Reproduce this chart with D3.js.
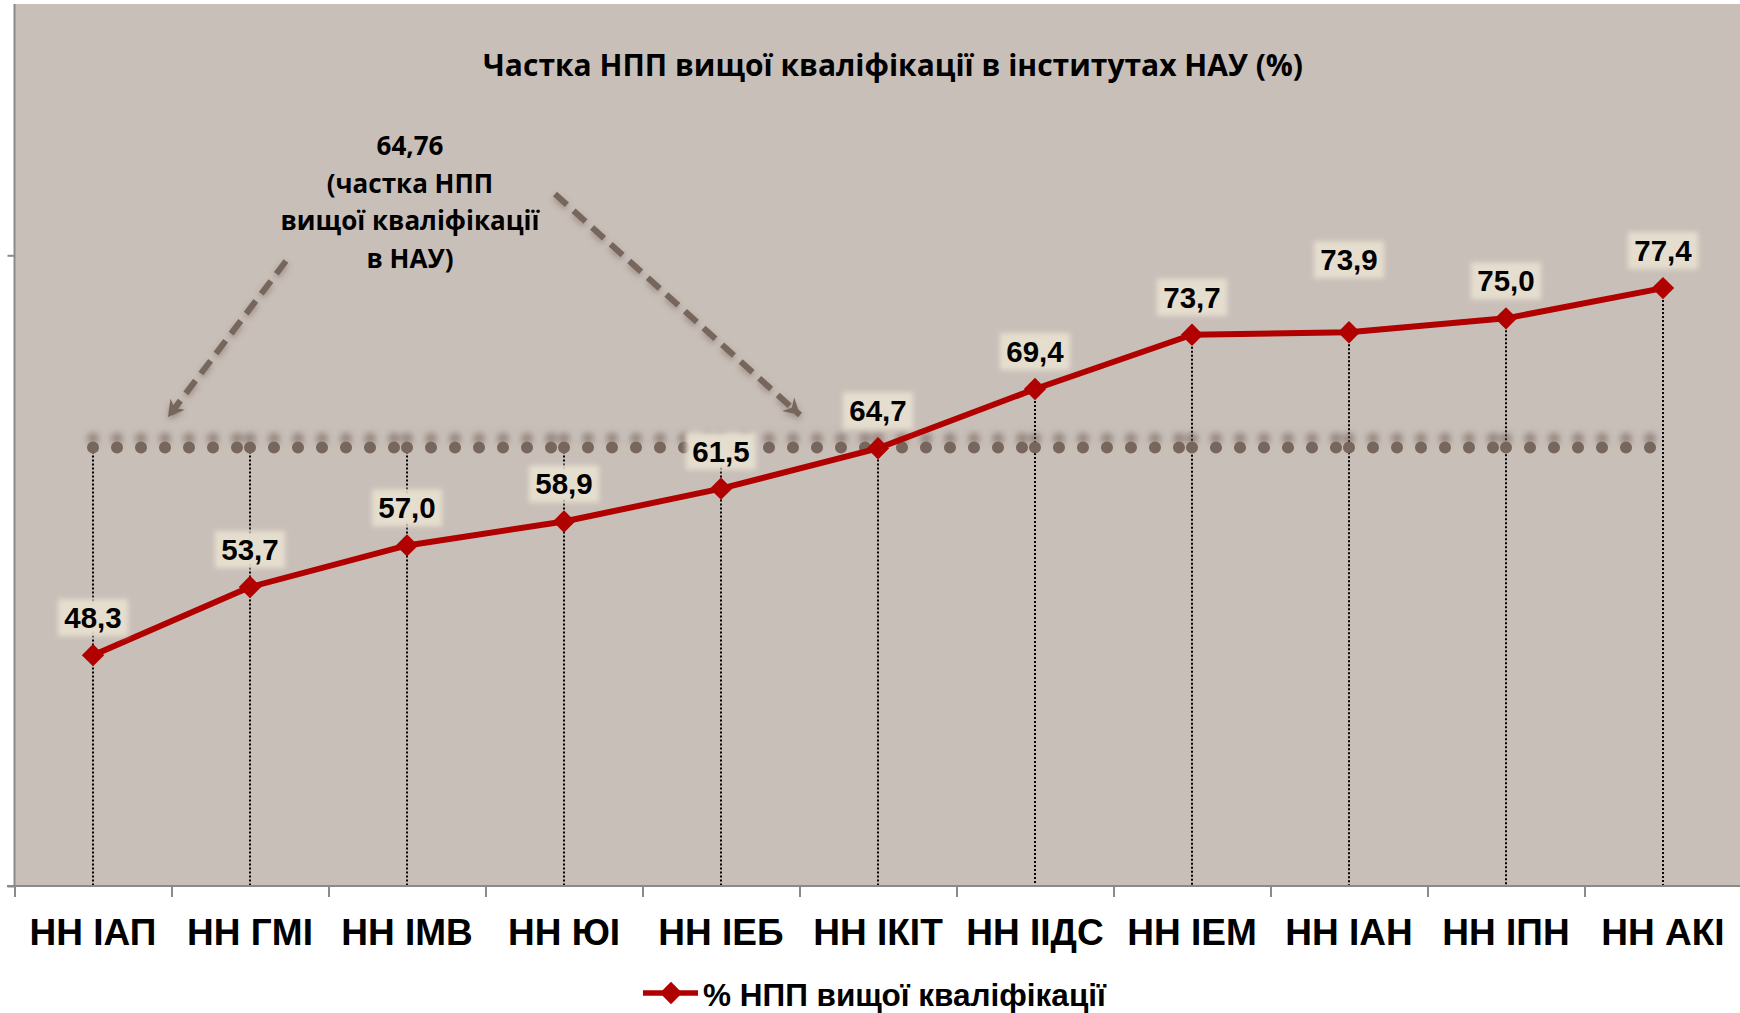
<!DOCTYPE html>
<html>
<head>
<meta charset="utf-8">
<script src="https://cdn.jsdelivr.net/npm/d3@7"></script>
<style>
  body { margin: 0; background: #fff; }
  svg { display: block; }
</style>
</head>
<body>
<svg id="canvas" width="1740" height="1013"></svg>
<script>
const categories = ["НН ІАП", "НН ГМІ", "НН ІМВ", "НН ЮІ", "НН ІЕБ", "НН ІКІТ", "НН ІІДС", "НН ІЕМ", "НН ІАН", "НН ІПН", "НН АКІ"];
const shares = [48.3, 53.7, 57.0, 58.9, 61.5, 64.7, 69.4, 73.7, 73.9, 75.0, 77.4];
const nauAverage = 64.76;
const yTicks = [30, 80];
const titleText = "Частка НПП вищої кваліфікації в інститутах НАУ (%)";
const noteLines = ["64,76", "(частка НПП", "вищої кваліфікації", "в НАУ)"];
const legendLabel = "% НПП вищої кваліфікації";

const red = "#b00000";
const brown = "#76665c";

const canvas = d3.select("#canvas");

const x = d3.scaleBand().domain(categories).range([14.5, 1741.5]).padding(0);
const xEdge = d3.scaleLinear().domain([0, categories.length]).range([14.5, 1741.5]);
const y = d3.scaleLinear().domain([30, 100]).range([886, 3]);
const cx = (c) => x(c) + x.bandwidth() / 2;
const fmt = (v) => d3.format(".1f")(v).replace(".", ",");

const defs = canvas.append("defs");
const wholeArea = (f) => f.attr("filterUnits", "userSpaceOnUse")
  .attr("x", 0).attr("y", 0).attr("width", 1740).attr("height", 1013);
const dotShadow = wholeArea(defs.append("filter").attr("id", "dotShadow"));
dotShadow.append("feDropShadow").attr("dx", 0).attr("dy", -9).attr("stdDeviation", 3)
  .attr("flood-color", "#5e4f46").attr("flood-opacity", 0.5);
const arrowShadow = wholeArea(defs.append("filter").attr("id", "arrowShadow"));
arrowShadow.append("feDropShadow").attr("dx", 0).attr("dy", 3).attr("stdDeviation", 3)
  .attr("flood-color", "#5e4f46").attr("flood-opacity", 0.45);
const glow = defs.append("filter").attr("id", "glow")
  .attr("x", "-30%").attr("y", "-50%").attr("width", "160%").attr("height", "200%");
glow.append("feGaussianBlur").attr("stdDeviation", 2.5);
defs.append("marker").attr("id", "head")
  .attr("markerUnits", "userSpaceOnUse")
  .attr("viewBox", "0 -10 20 20")
  .attr("refX", 16).attr("refY", 0)
  .attr("markerWidth", 20).attr("markerHeight", 20)
  .attr("orient", "auto")
  .append("path").attr("d", "M0,-9L16,0L0,9L5,0Z").attr("fill", brown);

// plot area
canvas.append("rect")
  .attr("x", 14.5).attr("y", 4)
  .attr("width", 1740 - 14.5).attr("height", y(30) - 4)
  .attr("fill", "#c9bfb9");

// title
canvas.append("text")
  .attr("x", 893).attr("y", 76)
  .attr("text-anchor", "middle")
  .attr("textLength", 820).attr("lengthAdjust", "spacingAndGlyphs")
  .style("font-family", "'Open Sans', sans-serif")
  .style("font-weight", "bold").style("font-size", "31px")
  .text(titleText);

// note about the average
canvas.append("g").selectAll("text")
  .data(noteLines)
  .enter()
  .append("text")
  .attr("x", 410)
  .attr("y", (d, i) => 155 + i * 37.6)
  .attr("text-anchor", "middle")
  .style("font-family", "'Open Sans', sans-serif")
  .style("font-weight", "bold").style("font-size", "26px")
  .text((d) => d);

// arrows pointing at the average line
const arrows = [[[286, 261], [168, 417]], [[555, 194], [800, 415]]];
canvas.append("g").attr("filter", "url(#arrowShadow)")
  .selectAll("line")
  .data(arrows)
  .enter()
  .append("line")
  .attr("x1", (d) => d[0][0]).attr("y1", (d) => d[0][1])
  .attr("x2", (d) => d[1][0]).attr("y2", (d) => d[1][1])
  .attr("stroke", brown).attr("stroke-width", 6)
  .attr("stroke-dasharray", "16 9")
  .attr("marker-end", "url(#head)");

// drop lines
canvas.append("g").selectAll("line")
  .data(categories)
  .enter()
  .append("line")
  .attr("x1", cx).attr("x2", cx)
  .attr("y1", (d, i) => y(Math.max(shares[i], nauAverage)))
  .attr("y2", y(30))
  .attr("stroke", "#000").attr("stroke-width", 2)
  .attr("stroke-dasharray", "2 2");

// average line made of round dots
const pairs = d3.pairs(categories);
canvas.append("g").attr("filter", "url(#dotShadow)")
  .selectAll("line")
  .data(pairs)
  .enter()
  .append("line")
  .attr("x1", (d) => cx(d[0])).attr("x2", (d) => cx(d[1]))
  .attr("y1", y(nauAverage)).attr("y2", y(nauAverage))
  .attr("stroke", brown).attr("stroke-width", 12)
  .attr("stroke-linecap", "round")
  .attr("stroke-dasharray", "0 24");

// axes
const yAxis = canvas.append("g")
  .attr("transform", "translate(14.5,0)")
  .call(d3.axisLeft(y).tickValues(yTicks).tickSize(7).tickFormat(""));
yAxis.select(".domain").attr("d", `M0,${y(100) + 1}V${y(30)}`);

const xTicks = canvas.append("g")
  .attr("transform", `translate(0,${y(30)})`)
  .call(d3.axisBottom(xEdge).tickValues(d3.range(categories.length + 1)).tickSize(11).tickFormat("").tickSizeOuter(0));
xTicks.select(".domain").attr("d", "M7,0H1740");

const xLabels = canvas.append("g")
  .attr("transform", `translate(0,${y(30)})`)
  .call(d3.axisBottom(x).tickSize(0));
xLabels.select(".domain").remove();
xLabels.selectAll("text")
  .attr("y", 945 - y(30)).attr("dy", 0)
  .attr("fill", "#000")
  .style("font-family", "'Liberation Sans', Arial, sans-serif")
  .style("font-weight", "bold").style("font-size", "37px");

canvas.selectAll(".domain, .tick line").attr("stroke", "#8a8a8a").attr("stroke-width", 2);

// series line
const line = d3.line()
  .x((d, i) => cx(categories[i]))
  .y((d) => y(d));
canvas.append("path")
  .datum(shares)
  .attr("d", line)
  .attr("fill", "none")
  .attr("stroke", red).attr("stroke-width", 6)
  .attr("stroke-linejoin", "round");

const diamond = d3.symbol(d3.symbolSquare, 250);
canvas.append("g").selectAll("path")
  .data(shares)
  .enter()
  .append("path")
  .attr("d", diamond)
  .attr("transform", (d, i) => `translate(${cx(categories[i])},${y(d)}) rotate(45)`)
  .attr("fill", red);

// data labels
const lift = (i) => (categories[i] === "НН ІАН" ? 62 : 27);
const labels = canvas.append("g").selectAll("g")
  .data(shares)
  .enter()
  .append("g")
  .attr("transform", (d, i) => `translate(${cx(categories[i])},${y(d) - lift(i)})`);
labels.append("rect")
  .attr("x", -35).attr("y", -29).attr("width", 70).attr("height", 37)
  .attr("fill", "#e5dece").attr("filter", "url(#glow)");
labels.append("text")
  .attr("text-anchor", "middle")
  .style("font-family", "'Liberation Sans', Arial, sans-serif")
  .style("font-weight", "bold").style("font-size", "29.5px")
  .text((d) => fmt(d));

// legend
const legend = canvas.append("g");
legend.append("line")
  .attr("x1", 643).attr("x2", 698).attr("y1", 993).attr("y2", 993)
  .attr("stroke", red).attr("stroke-width", 5.5);
legend.append("path")
  .attr("d", diamond)
  .attr("transform", "translate(671,993) rotate(45)")
  .attr("fill", red);
legend.append("text")
  .attr("x", 703).attr("y", 1006)
  .style("font-family", "'Liberation Sans', Arial, sans-serif")
  .style("font-weight", "bold").style("font-size", "31.5px")
  .text(legendLabel);
</script>
</body>
</html>
